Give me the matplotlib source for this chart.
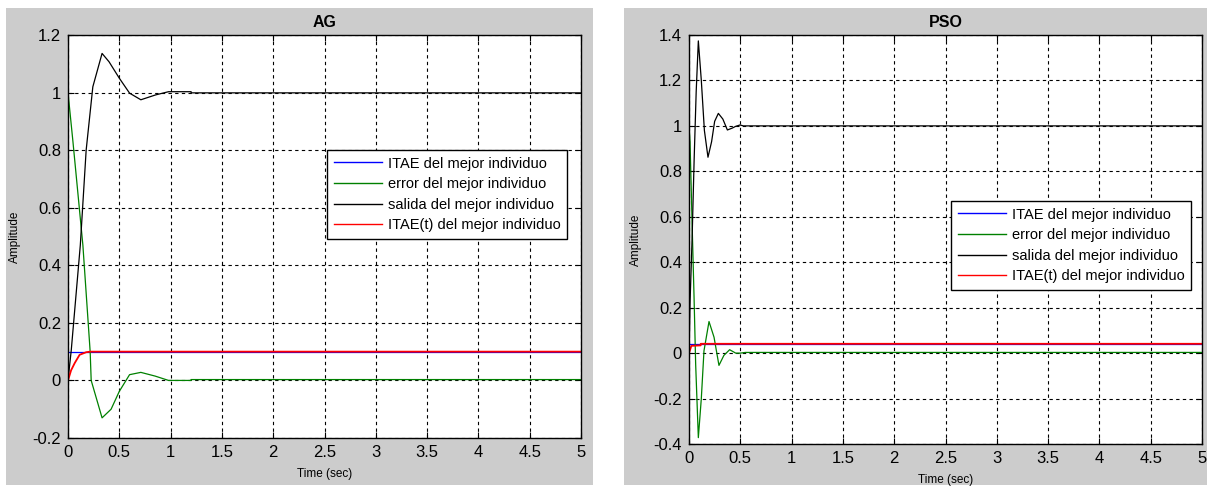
import matplotlib
matplotlib.use("Agg")
import matplotlib.pyplot as plt
from matplotlib.patches import Rectangle

plt.rcParams["font.family"] = ["Liberation Sans", "DejaVu Sans"]

W, H = 1207, 487

# ---- AG panel data ----
ag_t_out = [0, 0.032, 0.12, 0.177, 0.242, 0.332, 0.40, 0.50, 0.60, 0.71, 0.855, 0.98, 1.2, 1.2, 5]
ag_out = [0, 0.106, 0.47, 0.80, 1.02, 1.136, 1.107, 1.05, 0.998, 0.975, 0.992, 1.003, 1.003, 0.999, 0.999]
ag_t_err = [0, 0.048, 0.145, 0.216, 0.226, 0.332, 0.42, 0.50, 0.60, 0.71, 0.85, 0.98, 1.2, 1.2, 5]
ag_err = [1.0, 0.83, 0.47, 0.1, 0.0, -0.13, -0.1, -0.038, 0.02, 0.028, 0.015, 0.0, 0.0, 0.003, 0.003]
ag_t_itae = [0, 5]
ag_itae = [0.1, 0.1]
ag_t_itae_t = [0, 0.03, 0.065, 0.113, 0.177, 0.216, 5]
ag_itae_t = [0, 0.035, 0.06, 0.089, 0.098, 0.1, 0.1]

# ---- PSO panel data ----
pso_t_out = [0, 0.005, 0.01, 0.03, 0.05, 0.07, 0.091, 0.12, 0.15, 0.185, 0.22, 0.25, 0.286, 0.33, 0.374, 0.42, 0.455, 0.497, 0.53, 5]
pso_out = [0, 0.1, 0.22, 0.5, 0.85, 1.15, 1.374, 1.2, 0.98, 0.862, 0.93, 1.02, 1.055, 1.03, 0.982, 0.99, 0.998, 1.004, 1.0, 1.0]
pso_t_err = [0, 0.01, 0.032, 0.049, 0.065, 0.091, 0.12, 0.146, 0.195, 0.244, 0.292, 0.34, 0.396, 0.455, 0.50, 0.55, 5]
pso_err = [1.0, 0.93, 0.54, 0.25, -0.05, -0.372, -0.2, 0.01, 0.139, 0.07, -0.054, -0.01, 0.015, 0.0, 0.0, 0.003, 0.003]
pso_t_itae = [0, 5]
pso_itae = [0.041, 0.041]
pso_t_itae_t = [0, 0.023, 0.114, 0.114, 5]
pso_itae_t = [0, 0.032, 0.034, 0.041, 0.041]

labels = ["ITAE del mejor individuo", "error del mejor individuo",
          "salida del mejor individuo", "ITAE(t) del mejor individuo"]
colors = ["#0000ff", "#008000", "#000000", "#ff0000"]
widths = [0.9, 0.9, 0.9, 1.3]

x_ticks = [0, 0.5, 1, 1.5, 2, 2.5, 3, 3.5, 4, 4.5, 5]
x_tick_labels = ["0", "0.5", "1", "1.5", "2", "2.5", "3", "3.5", "4", "4.5", "5"]
ag_y_ticks = [-0.2, 0, 0.2, 0.4, 0.6, 0.8, 1, 1.2]
ag_y_labels = ["-0.2", "0", "0.2", "0.4", "0.6", "0.8", "1", "1.2"]
pso_y_ticks = [-0.4, -0.2, 0, 0.2, 0.4, 0.6, 0.8, 1, 1.2, 1.4]
pso_y_labels = ["-0.4", "-0.2", "0", "0.2", "0.4", "0.6", "0.8", "1", "1.2", "1.4"]

fig = plt.figure(figsize=(W / 100, H / 100), dpi=100)
fig.patch.set_facecolor("white")

# gray figure backgrounds of the two MATLAB windows
for x0, x1 in [(6, 593), (624, 1207)]:
    fig.patches.append(Rectangle((x0 / W, (H - 485) / H), (x1 - x0) / W, (485 - 8) / H,
                                 transform=fig.transFigure, facecolor="#cccccc",
                                 edgecolor="none", zorder=-10))


def px_axes(left, top, right, bottom):
    return fig.add_axes([left / W, (H - bottom) / H, (right - left) / W, (bottom - top) / H])


def draw(ax, series, title, yticks, ylabels, ylim, legend_box):
    for (t, v), c, lw, lab in zip(series, colors, widths, labels):
        ax.plot(t, v, color=c, lw=lw, label=lab)
    ax.set_xlim(0, 5)
    ax.set_ylim(*ylim)
    ax.set_xticks(x_ticks)
    ax.set_xticklabels(x_tick_labels)
    ax.set_yticks(yticks)
    ax.set_yticklabels(ylabels)
    ax.tick_params(direction="in", length=4, width=0.8, top=True, right=True,
                   labelsize=12, colors="black", pad=5)
    ax.grid(True, color="black", linestyle=(0, (3, 3)), linewidth=0.8)
    for s in ax.spines.values():
        s.set_linewidth(1.0)
    ax.set_title(title, fontsize=11.5, fontweight="bold", pad=6)
    ax.set_ylabel("Amplitude", fontsize=8.5, labelpad=8)
    ax.set_xlabel("Time (sec)", fontsize=8.5, labelpad=6)
    x0, y0, x1, y1 = legend_box
    leg = ax.legend(loc="upper left", bbox_to_anchor=(x0 / W, (H - y0) / H),
                    bbox_transform=fig.transFigure, fontsize=10.5, frameon=True,
                    fancybox=False, framealpha=1, edgecolor="black",
                    handlelength=3.3, handletextpad=0.4, labelspacing=0.45,
                    borderpad=0.45, borderaxespad=0)
    leg.get_frame().set_linewidth(1.0)
    for line in leg.get_lines():
        line.set_linewidth(1.0)


ax1 = px_axes(68, 35, 581, 438)
draw(ax1, [(ag_t_itae, ag_itae), (ag_t_err, ag_err), (ag_t_out, ag_out), (ag_t_itae_t, ag_itae_t)],
     "AG", ag_y_ticks, ag_y_labels, (-0.2, 1.2), (327, 150, 574, 245))

ax2 = px_axes(689, 35, 1202, 444)
draw(ax2, [(pso_t_itae, pso_itae), (pso_t_err, pso_err), (pso_t_out, pso_out), (pso_t_itae_t, pso_itae_t)],
     "PSO", pso_y_ticks, pso_y_labels, (-0.4, 1.4), (951, 201, 1200, 297))

fig.savefig("out.png", dpi=100)
